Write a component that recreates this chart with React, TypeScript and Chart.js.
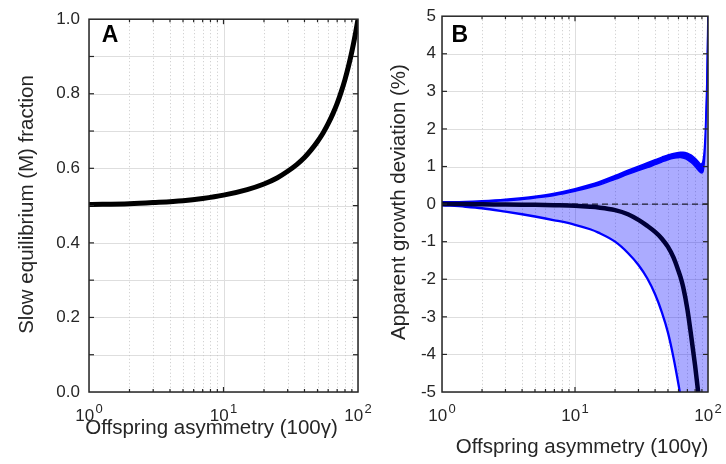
import React, { useEffect, useRef } from 'react';
import { Chart, registerables } from 'chart.js';

Chart.register(...registerables);

const FONT = '"Liberation Sans", Arial, Helvetica, sans-serif';
const INK = '#262626';

// ---------- Panel A data ----------
const gammaA = [1, 2, 3, 5, 7, 10, 15, 20, 25, 30, 35, 40, 45, 50, 55, 60, 65, 70, 75, 80, 85, 90, 95, 100];
const fracA = [0.503, 0.505, 0.508, 0.513, 0.519, 0.528, 0.543, 0.558, 0.574, 0.592, 0.61, 0.629, 0.65, 0.672, 0.695, 0.72, 0.746, 0.774, 0.805, 0.838, 0.874, 0.913, 0.955, 1.0];
const yTicksA = [0, 0.1, 0.2, 0.3, 0.4, 0.5, 0.6, 0.7, 0.8, 0.9, 1.0];
const yLabelsA = ['0.0', '', '0.2', '', '0.4', '', '0.6', '', '0.8', '', '1.0'];

// ---------- Panel B data ----------
const gammaB = [1, 1.5, 2, 3, 4, 5, 7, 10, 13, 15, 20, 25, 30, 35, 40, 45, 50, 55, 60, 62, 65, 70, 75, 80, 85, 88, 90, 92, 94, 96, 98, 99, 100];
const upperTop = [0.06, 0.07, 0.09, 0.13, 0.17, 0.21, 0.29, 0.41, 0.52, 0.59, 0.76, 0.9, 1.01, 1.1, 1.18, 1.25, 1.31, 1.35, 1.375, 1.38, 1.38, 1.355, 1.3, 1.22, 1.12, 1.07, 1.08, 1.18, 1.5, 2.2, 3.3, 4.2, 5.3];
const upperBot = [0.02, 0.03, 0.05, 0.09, 0.12, 0.16, 0.23, 0.34, 0.44, 0.5, 0.66, 0.79, 0.89, 0.97, 1.05, 1.12, 1.18, 1.22, 1.235, 1.24, 1.225, 1.18, 1.1, 1.0, 0.89, 0.84, 0.83, 0.88, 1.15, 1.8, 3.0, 3.9, 5.0];
const lowerB = [-0.03, -0.07, -0.11, -0.2, -0.27, -0.33, -0.43, -0.55, -0.67, -0.76, -1.0, -1.3, -1.62, -1.98, -2.4, -2.88, -3.42, -4.08, -4.8, -5.1, -5.7, -6.8, -8, -9.5, -11, -12, -13, -14, -15, -16, -17, -18, -19];
const meanB = [0, 0, -0.005, -0.01, -0.015, -0.02, -0.03, -0.045, -0.07, -0.09, -0.16, -0.27, -0.42, -0.58, -0.74, -0.92, -1.14, -1.42, -1.78, -1.93, -2.2, -2.8, -3.55, -4.3, -5.1, -5.6, -6.0, -6.5, -7, -7.5, -8, -8.3, -8.6];
const zeroX = [1, 100];
const zeroY = [0, 0];
const yTicksB = [-5, -4, -3, -2, -1, 0, 1, 2, 3, 4, 5];
const yLabelsB = ['-5', '-4', '-3', '-2', '-1', '0', '1', '2', '3', '4', '5'];

// ---------- shared axis text ----------
const xMajor = [1, 10, 100];
const xMinor = [2, 3, 4, 5, 6, 7, 8, 9, 20, 30, 40, 50, 60, 70, 80, 90];
const xExponents = ['0', '1', '2'];
const xTitle = 'Offspring asymmetry (100\u03B3)';
const yTitleA = 'Slow equilibrium (M) fraction';
const yTitleB = 'Apparent growth deviation (%)';

const pts = (xs: number[], ys: number[]) => xs.map((x, i) => ({ x, y: ys[i] }));

type Spec = {
  letter: string;
  letterX: number;
  yTicks: number[];
  yLabels: string[];
  yMin: number;
  yMax: number;
  yWidth: number;
  padRight: number;
  tickPad: number;
  yTitle: string;
  yTitleX: number;
  yTitleY: number;
  xTitleX: number;
  xTitleY: number;
  datasets: any[];
};

function framePlugin(spec: Spec) {
  return {
    id: 'frame',
    beforeDatasetsDraw(chart: any) {
      const { ctx, chartArea: a, scales } = chart;
      const x = scales.x;
      const y = scales.y;
      ctx.save();
      ctx.lineWidth = 1;
      ctx.strokeStyle = '#dedede';
      spec.yTicks.forEach((v) => {
        const py = Math.round(y.getPixelForValue(v)) + 0.5;
        ctx.beginPath();
        ctx.moveTo(a.left, py);
        ctx.lineTo(a.right, py);
        ctx.stroke();
      });
      xMajor.forEach((v) => {
        const px = Math.round(x.getPixelForValue(v)) + 0.5;
        ctx.beginPath();
        ctx.moveTo(px, a.top);
        ctx.lineTo(px, a.bottom);
        ctx.stroke();
      });
      ctx.setLineDash([1, 2.5]);
      ctx.strokeStyle = '#c8c8c8';
      xMinor.forEach((v) => {
        const px = Math.round(x.getPixelForValue(v)) + 0.5;
        ctx.beginPath();
        ctx.moveTo(px, a.top);
        ctx.lineTo(px, a.bottom);
        ctx.stroke();
      });
      ctx.restore();
    },
    afterDatasetsDraw(chart: any) {
      const { ctx, chartArea: a, scales } = chart;
      const x = scales.x;
      const y = scales.y;
      ctx.save();
      // box
      ctx.strokeStyle = INK;
      ctx.lineWidth = 1.5;
      ctx.strokeRect(a.left, a.top, a.right - a.left, a.bottom - a.top);
      // ticks
      ctx.lineWidth = 1.2;
      const tick = (x1: number, y1: number, x2: number, y2: number) => {
        ctx.beginPath();
        ctx.moveTo(x1, y1);
        ctx.lineTo(x2, y2);
        ctx.stroke();
      };
      xMajor.slice(1, -1).forEach((v) => {
        const px = x.getPixelForValue(v);
        tick(px, a.bottom, px, a.bottom - 5);
        tick(px, a.top, px, a.top + 5);
      });
      xMinor.forEach((v) => {
        const px = x.getPixelForValue(v);
        tick(px, a.bottom, px, a.bottom - 3);
        tick(px, a.top, px, a.top + 3);
      });
      spec.yTicks.slice(1, -1).forEach((v) => {
        const py = y.getPixelForValue(v);
        tick(a.left, py, a.left + 5, py);
        tick(a.right, py, a.right - 5, py);
      });
      // x tick labels (10^n)
      ctx.fillStyle = INK;
      ctx.textBaseline = 'alphabetic';
      ctx.textAlign = 'left';
      xMajor.forEach((v, i) => {
        const px = x.getPixelForValue(v);
        ctx.font = `17px ${FONT}`;
        const wb = ctx.measureText('10').width;
        ctx.font = `13px ${FONT}`;
        const we = ctx.measureText(xExponents[i]).width;
        const left = px - (wb + 1.5 + we) / 2;
        ctx.font = `17px ${FONT}`;
        ctx.fillText('10', left, 420.8);
        ctx.font = `13px ${FONT}`;
        ctx.fillText(xExponents[i], left + wb + 1.5, 412.8);
      });
      // x title
      ctx.font = `20.5px ${FONT}`;
      ctx.textAlign = 'center';
      ctx.fillText(xTitle, spec.xTitleX, spec.xTitleY);
      // y title
      ctx.save();
      ctx.translate(spec.yTitleX, spec.yTitleY);
      ctx.rotate(-Math.PI / 2);
      ctx.fillText(spec.yTitle, 0, 0);
      ctx.restore();
      // panel letter
      ctx.font = `bold 23px ${FONT}`;
      ctx.textAlign = 'left';
      ctx.fillStyle = '#000';
      ctx.fillText(spec.letter, spec.letterX, 41.7);
      ctx.restore();
    },
  };
}

function Panel({ spec, left, width }: { spec: Spec; left: number; width: number }) {
  const ref = useRef<HTMLCanvasElement | null>(null);
  useEffect(() => {
    if (!ref.current) return;
    const chart = new Chart(ref.current, {
      type: 'line',
      data: { datasets: spec.datasets },
      options: {
        responsive: false,
        animation: false,
        events: [],
        layout: { padding: { left: 0, right: spec.padRight, top: 14, bottom: 72 } },
        plugins: { legend: { display: false }, tooltip: { enabled: false } },
        elements: { point: { radius: 0 } },
        scales: {
          x: { type: 'logarithmic', min: 1, max: 100, display: false },
          y: {
            type: 'linear',
            min: spec.yMin,
            max: spec.yMax,
            afterFit: (s: any) => {
              s.width = spec.yWidth;
            },
            afterBuildTicks: (s: any) => {
              s.ticks = spec.yTicks.map((v) => ({ value: v }));
            },
            grid: { display: false, drawTicks: false },
            border: { display: false },
            ticks: {
              autoSkip: false,
              padding: spec.tickPad,
              color: INK,
              font: { family: FONT, size: 17 },
              callback: (_v: any, i: number) => spec.yLabels[i],
            },
          },
        },
      } as any,
      plugins: [framePlugin(spec)],
    });
    return () => chart.destroy();
  }, [spec]);
  return (
    <canvas
      ref={ref}
      width={width}
      height={464}
      style={{ position: 'absolute', left, top: 0, width, height: 464, display: 'block' }}
    />
  );
}

const lineDs = (data: any, color: string, w: number, order: number, extra: any = {}) => ({
  data,
  borderColor: color,
  borderWidth: w,
  pointRadius: 0,
  cubicInterpolationMode: 'monotone',
  fill: false,
  order,
  ...extra,
});

const specA: Spec = {
  letter: 'A',
  letterX: 101.7,
  yTicks: yTicksA,
  yLabels: yLabelsA,
  yMin: 0,
  yMax: 1,
  yWidth: 89,
  padRight: 22,
  tickPad: 9,
  yTitle: yTitleA,
  yTitleX: 33,
  yTitleY: 204.5,
  xTitleX: 211.5,
  xTitleY: 434,
  datasets: [lineDs(pts(gammaA, fracA), '#000000', 5, 0)],
};

const specB: Spec = {
  letter: 'B',
  letterX: 451.5 - 380,
  yTicks: yTicksB,
  yLabels: yLabelsB,
  yMin: -5,
  yMax: 5,
  yWidth: 62,
  padRight: 18,
  tickPad: 6,
  yTitle: yTitleB,
  yTitleX: 405 - 380,
  yTitleY: 202,
  xTitleX: 582 - 380,
  xTitleY: 452.5,
  datasets: [
    lineDs(pts(gammaB, meanB), '#000038', 4.5, 0),
    lineDs(pts(zeroX, zeroY), '#000000', 1, 1, { borderDash: [6, 4], cubicInterpolationMode: 'default', tension: 0 }),
    lineDs(pts(gammaB, lowerB), '#0000ff', 2.3, 2),
    lineDs(pts(gammaB, upperTop), '#0000ff', 1.5, 3, { fill: 4, backgroundColor: '#0000ff' }),
    lineDs(pts(gammaB, upperBot), '#0000ff', 1.5, 4, { fill: 2, backgroundColor: 'rgba(0,0,255,0.33)' }),
  ],
};

export default function App() {
  return (
    <div style={{ position: 'fixed', left: 0, top: 0, width: 726, height: 464, background: '#ffffff', overflow: 'hidden' }}>
      <Panel spec={specA} left={0} width={380} />
      <Panel spec={specB} left={380} width={346} />
    </div>
  );
}
